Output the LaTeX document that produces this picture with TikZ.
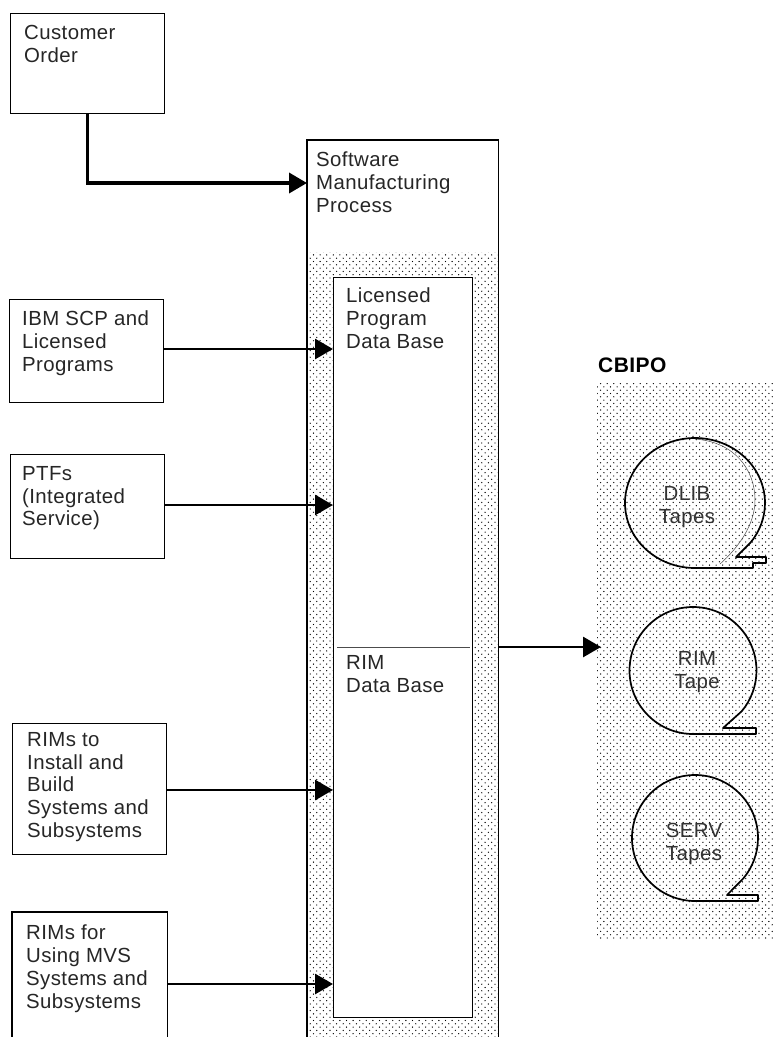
\documentclass[tikz,border=0pt]{standalone}
\usepackage{fontspec}
\setmainfont[LetterSpace=2.0]{Liberation Sans}
\usetikzlibrary{arrows.meta,patterns,calc}
\pgfdeclarepatternformonly{stip}{\pgfqpoint{-1pt}{-1pt}}{\pgfqpoint{6pt}{6pt}}{\pgfqpoint{6.6pt}{6.6pt}}{%
  \pgfpathcircle{\pgfqpoint{0pt}{0pt}}{0.66pt}%
  \pgfpathcircle{\pgfqpoint{3.3pt}{3.3pt}}{0.66pt}%
  \pgfusepath{fill}}
\tikzset{
  boxed/.style={draw=black,line width=1.3pt,fill=white,rectangle,inner sep=0pt,anchor=north west},
  region/.style={rectangle,inner sep=0pt,anchor=north west,pattern=stip,pattern color=black},
  plainarea/.style={rectangle,inner sep=0pt,anchor=north west},
  txt/.style={anchor=north west,inner sep=0pt,align=left,font=\fontsize{20.4}{22.8}\selectfont,text=black!85},
  ctxt/.style={anchor=center,inner sep=0pt,align=center,font=\fontsize{20.4}{23}\selectfont,text=black!80},
  head/.style={anchor=north west,inner sep=0pt,font=\fontsize{21}{24}\selectfont\bfseries},
  flow/.style={line width=2.9pt,-{Triangle[length=18pt,width=20pt]}},
  tape/.style={line width=1.7pt,line join=round},
  inner/.style={draw=black,line width=0.9pt,fill=white,rectangle,inner sep=0pt,anchor=north west}
}
\begin{document}
\begin{tikzpicture}[x=1pt,y=-1pt]
\useasboundingbox (0,0) rectangle (773,1037);
\fill[white] (0,0) rectangle (773,1037);
% stippled regions
\node[region,minimum width=191pt,minimum height=785pt] (stipple) at (307,252) {};
\node[region,minimum width=176pt,minimum height=555pt] (cbipo) at (597,383) {};
% main box, open at the bottom
\node[plainarea,minimum width=191pt,minimum height=897pt] (main) at (307,140) {};
\draw[line width=1.6pt] (main.south west) -- (main.north west) -- (main.north east) -- (main.south east);
% data base column
\node[inner,minimum width=139pt,minimum height=740pt] (lpdb) at (333,277) {};
\coordinate (divl) at ($(lpdb.west |- 0,647)+(4,0)$);
\coordinate (divr) at ($(lpdb.east |- 0,647)+(-3,0)$);
\draw[black!70,line width=0.8pt] (divl) -- (divr);
% sources
\node[boxed,minimum width=154pt,minimum height=100pt] (order) at (10,13) {};
\node[boxed,minimum width=154pt,minimum height=103pt] (ibm) at (9,299) {};
\node[boxed,minimum width=154pt,minimum height=104pt] (ptf) at (10,454) {};
\node[boxed,minimum width=154pt,minimum height=131pt] (install) at (12,723) {};
\node[plainarea,minimum width=155pt,minimum height=125pt] (using) at (12,912) {};
\draw[line width=1.1pt] (using.south west) -- (using.north west) -- (using.north east) -- (using.south east);
% texts
\node[txt] (torder) at (24,25) {Customer\\Order};
\node[txt] (tmain) at (316,152) {Software\\Manufacturing\\Process};
\node[txt] (tlp) at (346,288) {Licensed\\Program\\Data Base};
\node[txt] (tibm) at (22,311) {IBM SCP and\\Licensed\\Programs};
\node[txt] (tptf) at (22,466) {PTFs\\(Integrated\\Service)};
\node[txt] (trim) at (346,655) {RIM\\Data Base};
\node[txt] (tinst) at (27,732) {RIMs to\\Install and\\Build\\Systems and\\Subsystems};
\node[txt] (tuse) at (26,925) {RIMs for\\Using MVS\\Systems and\\Subsystems};
\node[head] (thead) at (598,358) {CBIPO};
% connectors
\draw[flow,line width=3.6pt,line join=miter] (order.south) |- (main.west |- 0,183);
\draw[flow] (ibm.east |- 0,349) -- (lpdb.west |- 0,349);
\draw[flow] (ptf.east |- 0,505) -- (lpdb.west |- 0,505);
\draw[flow] (install.east |- 0,790) -- (lpdb.west |- 0,790);
\draw[flow] (using.east |- 0,984) -- (lpdb.west |- 0,984);
\coordinate (outtip) at ($(cbipo.west |- 0,647)+(4,0)$);
\draw[flow] (main.east |- 0,647) -- (outtip);
% tapes
\draw[tape] (695,568) arc[start angle=90,end angle=398,x radius=70,y radius=65]
  -- (736,557) -- (766,557) -- (766,563) -- (753,563) -- (753,568) -- cycle;
\draw[black!70,line width=0.5pt] (695,439) .. controls (735,442) and (755,470) .. (755,500) .. controls (755,525) and (738,548) .. (720,564);
\draw[tape] (693,734) arc[start angle=90,end angle=400,radius=63.5]
  -- (723,728) -- (756,728) -- (756,734) -- cycle;
\draw[tape] (695,901) arc[start angle=90,end angle=400,radius=63]
  -- (727,895) -- (758,895) -- (758,901) -- cycle;
\node[ctxt] (tdlib) at (687,507) {DLIB\\Tapes};
\node[ctxt] (trimt) at (697,672) {RIM\\Tape};
\node[ctxt] (tserv) at (694,844) {SERV\\Tapes};
\end{tikzpicture}
\end{document}
